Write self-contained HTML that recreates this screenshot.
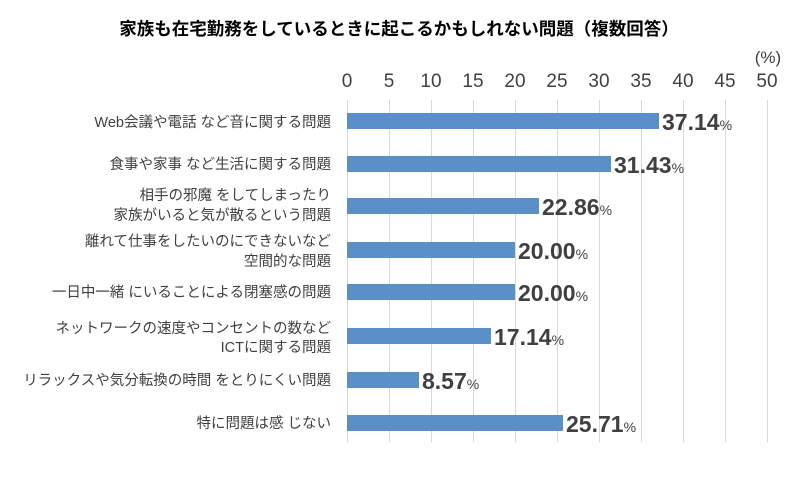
<!DOCTYPE html>
<html><head><meta charset="utf-8"><style>
body{margin:0;background:#fff;}
svg text{font-family:"Liberation Sans","Noto Sans CJK JP",sans-serif;}
</style></head><body>
<svg width="800" height="476" xmlns="http://www.w3.org/2000/svg">
<rect width="800" height="476" fill="#fff"/>
<text x="399" y="35" text-anchor="middle" font-size="17.5" font-weight="bold" fill="#000">家族も在宅勤務をしているときに起こるかもしれない問題（複数回答）</text>
<text x="768" y="63" text-anchor="middle" font-size="17" fill="#404040">(%)</text>
<g font-size="19" fill="#404040" text-anchor="middle">
<text x="347" y="87">0</text><text x="389" y="87">5</text><text x="431" y="87">10</text><text x="473" y="87">15</text><text x="515" y="87">20</text><text x="557" y="87">25</text><text x="599" y="87">30</text><text x="641" y="87">35</text><text x="683" y="87">40</text><text x="725" y="87">45</text><text x="767" y="87">50</text>
</g>
<g stroke="#d9d9d9" stroke-width="1">
<line x1="347.5" y1="100" x2="347.5" y2="442"/><line x1="389.5" y1="100" x2="389.5" y2="442"/><line x1="431.5" y1="100" x2="431.5" y2="442"/><line x1="473.5" y1="100" x2="473.5" y2="442"/><line x1="515.5" y1="100" x2="515.5" y2="442"/><line x1="557.5" y1="100" x2="557.5" y2="442"/><line x1="599.5" y1="100" x2="599.5" y2="442"/><line x1="641.5" y1="100" x2="641.5" y2="442"/><line x1="683.5" y1="100" x2="683.5" y2="442"/><line x1="725.5" y1="100" x2="725.5" y2="442"/><line x1="767.5" y1="100" x2="767.5" y2="442"/>
</g>
<g fill="#5b8fc7">
<rect x="347" y="113" width="312" height="16"/>
<rect x="347" y="156" width="264" height="16"/>
<rect x="347" y="198" width="192" height="16"/>
<rect x="347" y="242" width="168" height="16"/>
<rect x="347" y="284" width="168" height="16"/>
<rect x="347" y="328" width="144" height="16"/>
<rect x="347" y="372" width="72" height="16"/>
<rect x="347" y="415" width="216" height="16"/>
</g>
<g font-size="23" font-weight="bold" fill="#404040">
<text x="662" y="130">37.14<tspan font-size="14" font-weight="normal">%</tspan></text>
<text x="614" y="173">31.43<tspan font-size="14" font-weight="normal">%</tspan></text>
<text x="542" y="215">22.86<tspan font-size="14" font-weight="normal">%</tspan></text>
<text x="518" y="259">20.00<tspan font-size="14" font-weight="normal">%</tspan></text>
<text x="518" y="301">20.00<tspan font-size="14" font-weight="normal">%</tspan></text>
<text x="494" y="345">17.14<tspan font-size="14" font-weight="normal">%</tspan></text>
<text x="422" y="389">8.57<tspan font-size="14" font-weight="normal">%</tspan></text>
<text x="566" y="432">25.71<tspan font-size="14" font-weight="normal">%</tspan></text>
</g>
<g font-size="14.5" fill="#404040" text-anchor="end">
<text x="331" y="127">Web会議や電話 など音に関する問題</text>
<text x="331" y="169">食事や家事 など生活に関する問題</text>
<text x="331" y="200">相手の邪魔 をしてしまったり</text>
<text x="331" y="220">家族がいると気が散るという問題</text>
<text x="331" y="246">離れて仕事をしたいのにできないなど</text>
<text x="331" y="266">空間的な問題</text>
<text x="331" y="297">一日中一緒 にいることによる閉塞感の問題</text>
<text x="331" y="333">ネットワークの速度やコンセントの数など</text>
<text x="331" y="352">ICTに関する問題</text>
<text x="331" y="385">リラックスや気分転換の時間 をとりにくい問題</text>
<text x="331" y="428">特に問題は感 じない</text>
</g>
</svg>
</body></html>
